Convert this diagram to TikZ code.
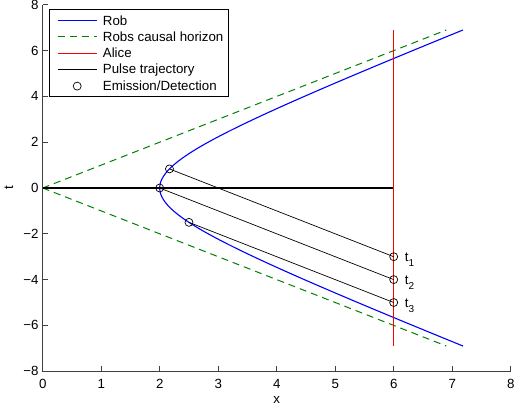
\documentclass[tikz,border=0pt]{standalone}
\usepackage{fontspec}
\setmainfont{Liberation Sans}
\usetikzlibrary{positioning}

\definecolor{robblue}{rgb}{0,0,1}
\definecolor{horgreen}{rgb}{0,0.5,0}
\definecolor{alicered}{rgb}{1,0,0}

\begin{document}
\begin{tikzpicture}[
  x=58.5pt, y=22.9pt,
  font=\fontsize{13.3}{15}\selectfont,
  axis/.style={draw=black!75, line width=0.8pt},
  robline/.style={draw=robblue, line width=1.1pt},
  horizon/.style={draw=horgreen, line width=1pt, dash pattern=on 7pt off 5pt},
  aliceline/.style={draw=alicered, line width=1.3pt},
  pulse/.style={draw=black, line width=0.7pt},
  evt/.style={circle, draw, fill=none, inner sep=0pt, minimum size=8pt, line width=0.7pt},
  tlbl/.style={anchor=west, inner sep=0pt, xshift=11pt, yshift=-3pt}
]
\useasboundingbox (-42.7pt,-225pt) rectangle (471.3pt,188pt);

% axes and ticks
\draw[axis] (0,8) -- (0,-8) -- (8,-8);
\foreach \y/\lab in {8/8, 6/6, 4/4, 2/2, 0/0, -2/−2, -4/−4, -6/−6, -8/−8} {
  \draw[axis] (0,\y) -- ++(5pt,0);
  \node[anchor=east, inner sep=0pt] at ([xshift=-4pt]0,\y) {\lab};
}
\foreach \x in {0,...,8} {
  \draw[axis] (\x,-8) -- ++(0,5pt);
  \node[anchor=north, inner sep=0pt] at ([yshift=-8pt]\x,-8) {\x};
}
\node (xlab) at (4,-9.26) {x};
\node[rotate=90] (tlab) at (-33.7pt,0) {t};

% world lines
\draw[horizon] (0,0) -- (6.9,6.9);
\draw[horizon] (0,0) -- (6.9,-6.9);
\draw[robline] plot[domain=-6.9:6.9, samples=120, variable=\s] ({sqrt(4+\s*\s)}, \s);
\draw[line width=1.3pt] (0,0) -- (6,0);
\draw[aliceline] (6,-6.9) -- (6,6.9);

% emission and detection events
\coordinate (e1) at (2.1667,0.8333);
\coordinate (e2) at (2,0);
\coordinate (e3) at (2.5,-1.5);
\coordinate (d1) at (6,-3);
\coordinate (d2) at (6,-4);
\coordinate (d3) at (6,-5);
\foreach \i in {1,2,3} {
  \draw[pulse] (e\i) -- (d\i);
  \node[evt] at (e\i) {};
  \node[evt] at (d\i) {};
}
\node[tlbl] (t1) at (d1) {t\raisebox{-5pt}{\fontsize{10}{10}\selectfont 1}};
\node[tlbl] (t2) at (d2) {t\raisebox{-5pt}{\fontsize{10}{10}\selectfont 2}};
\node[tlbl] (t3) at (d3) {t\raisebox{-5pt}{\fontsize{10}{10}\selectfont 3}};

% legend
\draw[fill=white, line width=0.8pt] (6.6pt,178.7pt) rectangle (186pt,91.3pt);
\foreach \st/\txt [count=\i] in {robline/Rob, horizon/Robs causal horizon, aliceline/Alice, pulse/Pulse trajectory} {
  \draw[\st] (15pt,{184pt-\i*16.4pt}) -- (54pt,{184pt-\i*16.4pt});
  \node[anchor=west, inner sep=0pt] at (60pt,{184pt-\i*16.4pt}) {\txt};
}
\node[evt] at (34.5pt,101.9pt) {};
\node[anchor=west, inner sep=0pt] at (60pt,101.9pt) {Emission/Detection};
\end{tikzpicture}
\end{document}
